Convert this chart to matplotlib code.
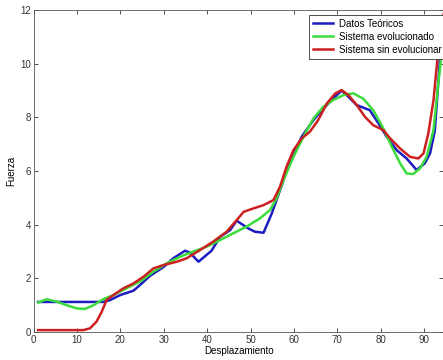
import matplotlib
matplotlib.use("Agg")
import matplotlib.pyplot as plt

plt.rcParams['font.family'] = ['Liberation Sans', 'DejaVu Sans']

# Datos Teoricos (blue)
x_teo = [1, 16, 17.6, 20, 23, 24.5, 26.8, 30, 32.2, 34.9, 36, 38, 41, 43, 45.3, 46.8,
         49.5, 51, 53, 54.9, 56, 58.3, 59.9, 61.8, 64.5, 66.8, 69.1, 71, 72.2, 74.5,
         77.5, 79.5, 81.4, 83.7, 86, 88.3, 90.2, 91.4, 92.5, 93.3, 94.1, 94.8]
y_teo = [1.12, 1.12, 1.19, 1.38, 1.54, 1.75, 2.09, 2.43, 2.75, 3.03, 2.96, 2.62, 3.03,
         3.55, 3.8, 4.15, 3.86, 3.74, 3.7, 4.42, 4.92, 5.98, 6.6, 7.28, 7.9, 8.33, 8.71,
         9.0, 8.83, 8.46, 8.27, 7.78, 7.28, 6.78, 6.47, 6.04, 6.29, 6.66, 7.5, 9.3, 11.1, 11.8]

# Sistema evolucionado (green)
x_evo = [1, 3, 5.3, 7.6, 9.9, 11.8, 13.8, 16, 18.4, 21.4, 24.5, 27.6, 30.7, 33.7, 36.8,
         39.9, 43, 46, 49.1, 52.2, 54.5, 56, 57.6, 59.9, 62.2, 64.5, 66.8, 69.1, 71.4,
         73.7, 76, 78.3, 80.6, 82.6, 84.5, 86, 87.5, 89.1, 90.6, 92.2, 93.3, 94.5, 95]
y_evo = [1.1, 1.22, 1.13, 1.0, 0.88, 0.86, 1.0, 1.22, 1.38, 1.63, 1.88, 2.25, 2.56, 2.8,
         3.0, 3.18, 3.43, 3.68, 3.93, 4.24, 4.55, 4.98, 5.66, 6.53, 7.28, 7.96, 8.4, 8.65,
         8.83, 8.9, 8.7, 8.27, 7.6, 6.9, 6.29, 5.91, 5.89, 6.1, 6.53, 7.53, 9.27, 11.0, 11.6]

# Sistema sin evolucionar (red)
x_sin = [1, 11.5, 13, 14.5, 15.7, 16.8, 18.4, 20.7, 23, 25.3, 27.6, 30, 33, 35.3, 38.4,
         41.4, 44.5, 46.8, 48.4, 50.7, 53, 55.3, 56.8, 58.3, 59.9, 61.8, 63.7, 65.6, 67.6,
         69.5, 71, 72.6, 74.5, 76.4, 78.3, 80.6, 82.2, 84.5, 86.8, 88.7, 89.9, 91, 92.2,
         93.3, 94.1, 94.8]
y_sin = [0.07, 0.07, 0.14, 0.39, 0.76, 1.19, 1.38, 1.63, 1.81, 2.06, 2.37, 2.5, 2.62,
         2.75, 3.06, 3.37, 3.74, 4.17, 4.48, 4.61, 4.73, 4.92, 5.42, 6.16, 6.78, 7.22,
         7.47, 7.9, 8.52, 8.89, 9.02, 8.83, 8.46, 8.02, 7.71, 7.53, 7.22, 6.84, 6.53,
         6.47, 6.66, 7.4, 8.65, 10.5, 11.6, 12.0]

fig = plt.figure(figsize=(4.43, 3.6), dpi=100)
ax = fig.add_axes([0.0761, 0.0778, 0.925, 0.894])

ax.plot(x_teo, y_teo, color='#1c1cc0', lw=1.8, label='Datos Teóricos')
ax.plot(x_evo, y_evo, color='#3cdc3c', lw=1.8, label='Sistema evolucionado')
ax.plot(x_sin, y_sin, color='#cc2020', lw=1.8, label='Sistema sin evolucionar')

ax.set_xlim(0, 94.5)
ax.set_ylim(0, 12)
ax.set_xticks(range(0, 91, 10))
ax.set_yticks(range(0, 13, 2))
ax.tick_params(direction='in', top=True, right=True, labelsize=7, length=3,
               width=0.6, colors='#333333', pad=2)
for s in ax.spines.values():
    s.set_linewidth(0.6)
    s.set_color('#555555')

ax.set_xlabel('Desplazamiento', fontsize=7, labelpad=1)
ax.set_ylabel('Fuerza', fontsize=7, labelpad=3)

leg = ax.legend(loc='upper right', bbox_to_anchor=(1.006, 0.985), borderaxespad=0,
                fontsize=7, fancybox=False, framealpha=1, edgecolor='#333333',
                handlelength=2.1, labelspacing=0.3, borderpad=0.4, handletextpad=0.6)
leg.get_frame().set_linewidth(0.6)

fig.savefig('out.png', dpi=100)
